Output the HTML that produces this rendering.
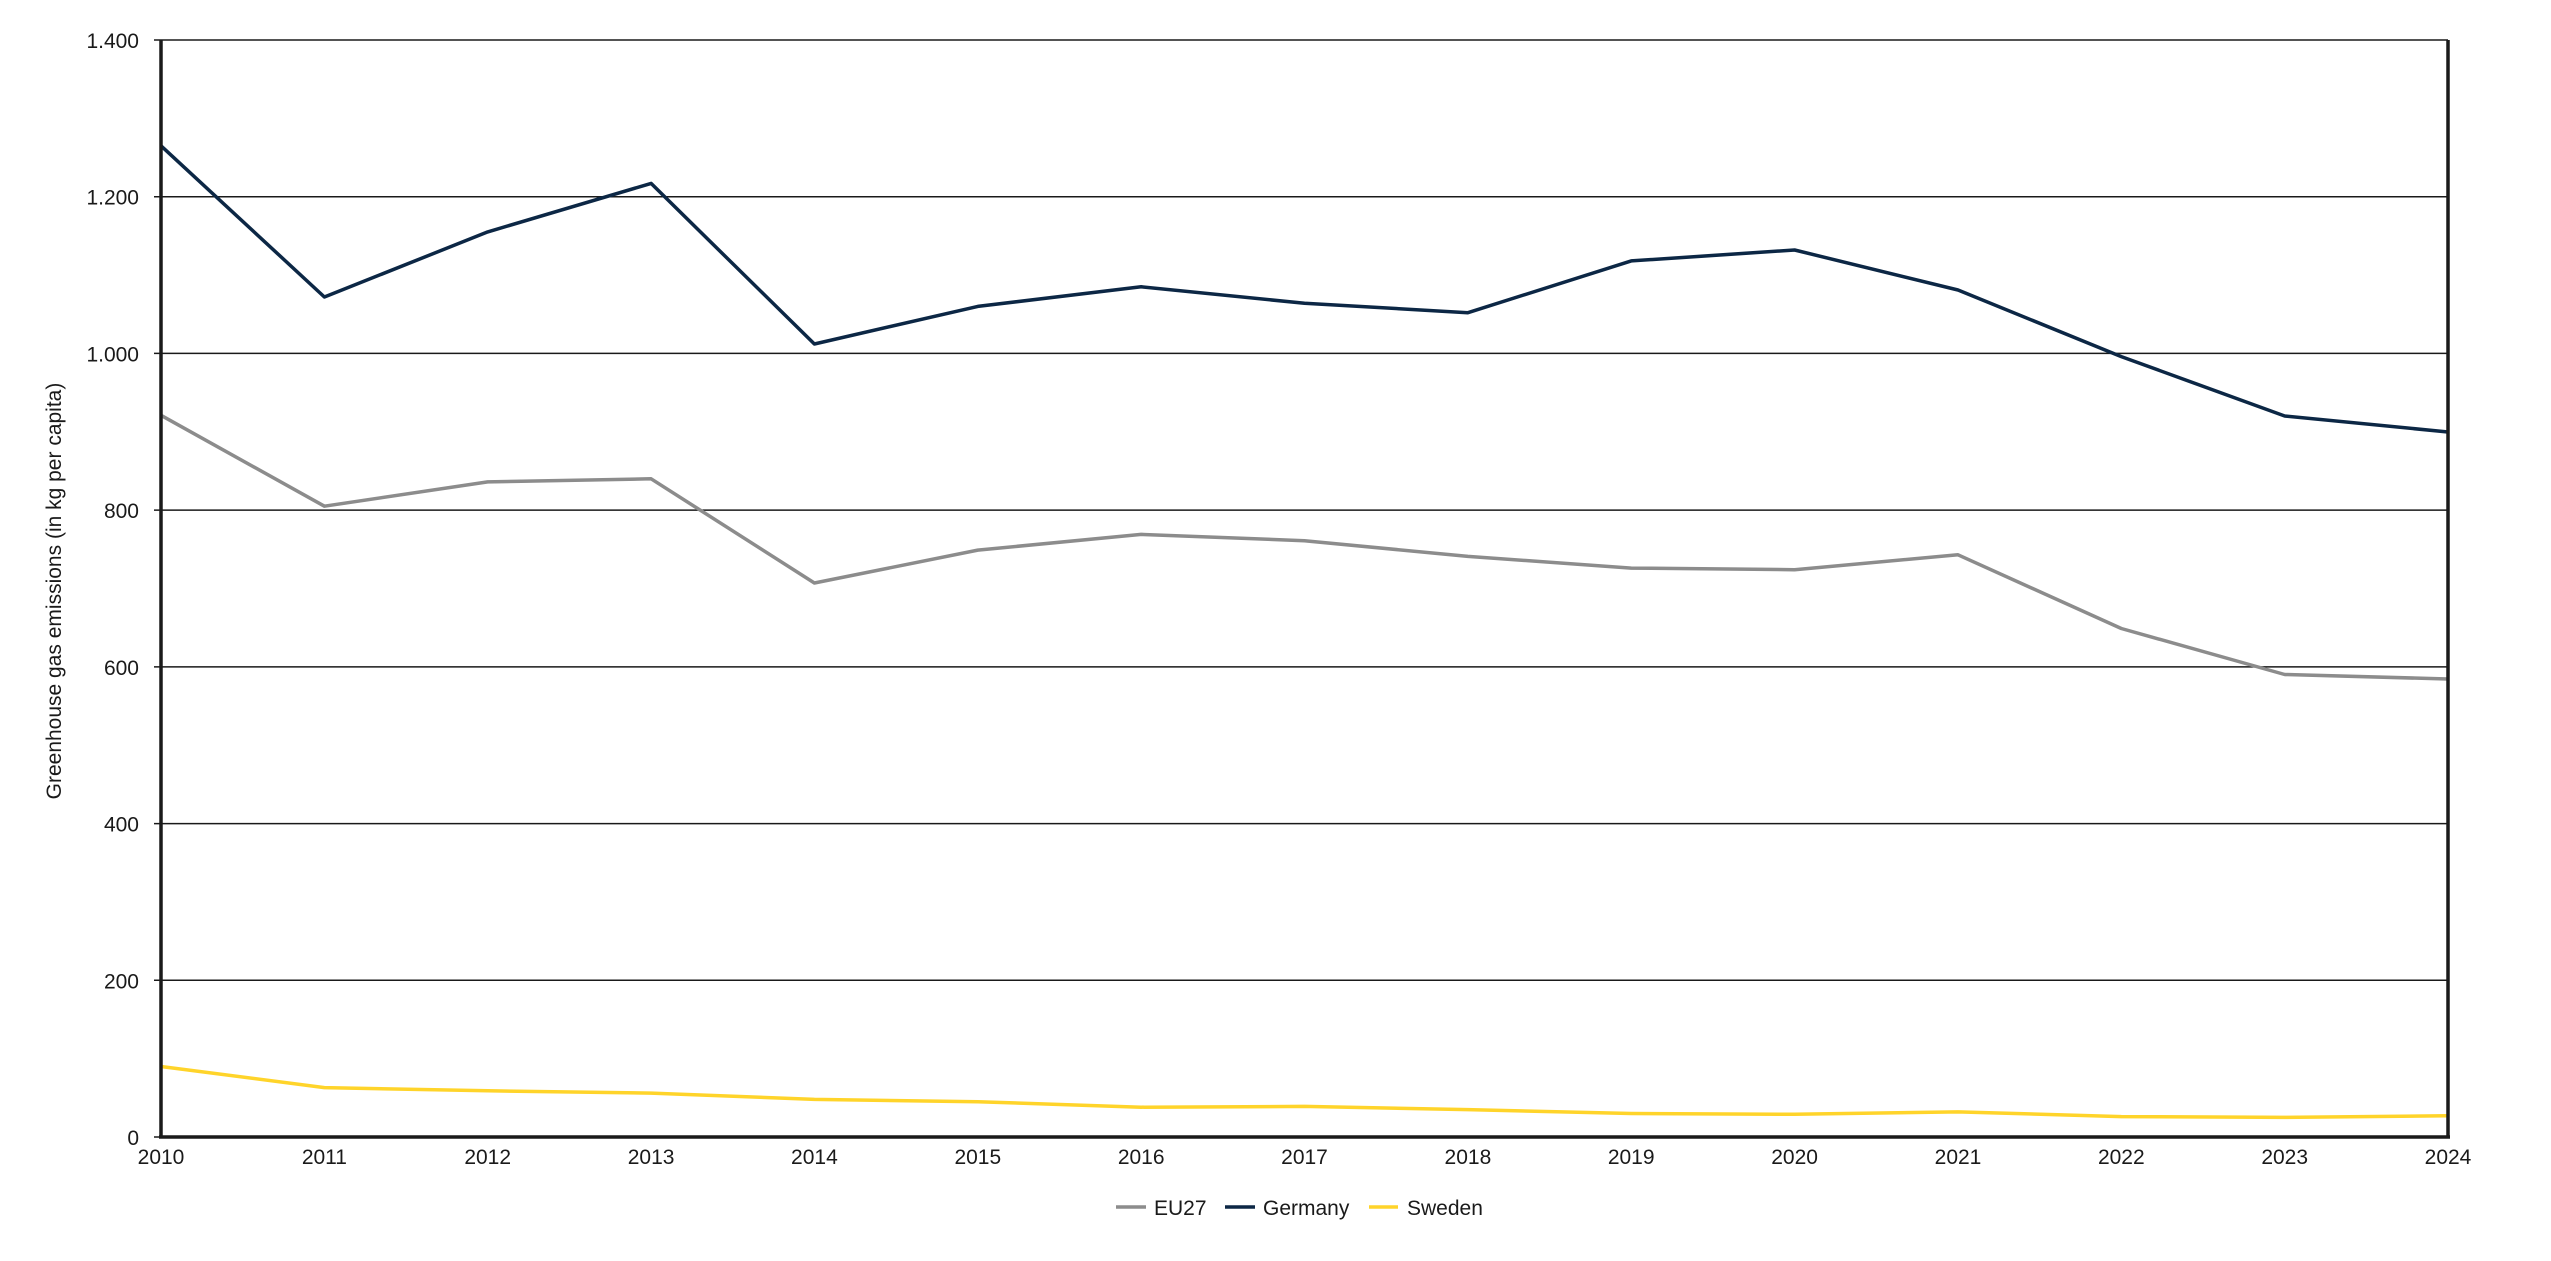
<!DOCTYPE html>
<html><head><meta charset="utf-8"><style>
html,body{margin:0;padding:0;background:#fff;}
svg{display:block;}
text{font-family:"Liberation Sans",Arial,sans-serif;fill:#1a1a1a;}
</style></head><body>
<svg width="2551" height="1261" viewBox="0 0 2551 1261" xmlns="http://www.w3.org/2000/svg">
<g stroke="#1a1a1a" stroke-width="1.5">
<line x1="154" y1="40" x2="2448" y2="40"/>
<line x1="154" y1="196.7" x2="2448" y2="196.7"/>
<line x1="154" y1="353.4" x2="2448" y2="353.4"/>
<line x1="154" y1="510.1" x2="2448" y2="510.1"/>
<line x1="154" y1="666.9" x2="2448" y2="666.9"/>
<line x1="154" y1="823.6" x2="2448" y2="823.6"/>
<line x1="154" y1="980.3" x2="2448" y2="980.3"/>
<line x1="154" y1="1137" x2="161" y2="1137"/>
</g>
<g font-size="21" text-anchor="end">
<text x="139" y="48">1.400</text>
<text x="139" y="204.7">1.200</text>
<text x="139" y="361.4">1.000</text>
<text x="139" y="518.1">800</text>
<text x="139" y="674.9">600</text>
<text x="139" y="831.6">400</text>
<text x="139" y="988.3">200</text>
<text x="139" y="1145">0</text>
</g>
<g font-size="21" text-anchor="middle">
<text x="161" y="1164">2010</text><text x="324.4" y="1164">2011</text><text x="487.7" y="1164">2012</text><text x="651.1" y="1164">2013</text><text x="814.4" y="1164">2014</text><text x="977.8" y="1164">2015</text><text x="1141.2" y="1164">2016</text><text x="1304.5" y="1164">2017</text><text x="1467.9" y="1164">2018</text><text x="1631.2" y="1164">2019</text><text x="1794.6" y="1164">2020</text><text x="1958" y="1164">2021</text><text x="2121.3" y="1164">2022</text><text x="2284.7" y="1164">2023</text><text x="2448" y="1164">2024</text>
</g>
<text font-size="21" text-anchor="middle" transform="translate(61,591) rotate(-90)">Greenhouse gas emissions (in kg per capita)</text>
<g fill="none" stroke-width="3.5" stroke-linejoin="round">
<polyline stroke="#8c8c8c" points="161,415.3 324.4,506.2 487.7,481.9 651.1,478.8 814.4,583 977.8,550.1 1141.2,534.4 1304.5,540.7 1467.9,556.4 1631.2,568.1 1794.6,569.7 1958,554.8 2121.3,628.5 2284.7,674.5 2448,679"/>
<polyline stroke="#0c2745" points="161,145.8 324.4,297 487.7,231.9 651.1,183.4 814.4,344 977.8,306.4 1141.2,286.8 1304.5,303.3 1467.9,312.7 1631.2,260.9 1794.6,250 1958,290 2121.3,356.6 2284.7,416 2448,432"/>
<polyline stroke="#ffd42a" points="161,1066.5 324.4,1087.6 487.7,1090.8 651.1,1093.1 814.4,1099.4 977.8,1101.7 1141.2,1107.2 1304.5,1106.4 1467.9,1109.6 1631.2,1113.5 1794.6,1114.3 1958,1111.9 2121.3,1116.6 2284.7,1117.4 2448,1115.8"/>
</g>
<g stroke="#1a1a1a" stroke-width="3.5" fill="none">
<line x1="161" y1="40" x2="161" y2="1138.5"/>
<line x1="2448" y1="40" x2="2448" y2="1138.5"/>
<line x1="159" y1="1137" x2="2450" y2="1137"/>
</g>
<g stroke-width="3.5">
<line x1="1116" y1="1207" x2="1146" y2="1207" stroke="#8c8c8c"/>
<line x1="1225" y1="1207" x2="1255" y2="1207" stroke="#0c2745"/>
<line x1="1369" y1="1207" x2="1398" y2="1207" stroke="#ffd42a"/>
</g>
<g font-size="21">
<text x="1154" y="1215">EU27</text>
<text x="1263" y="1215">Germany</text>
<text x="1407" y="1215">Sweden</text>
</g>
</svg>
</body></html>
